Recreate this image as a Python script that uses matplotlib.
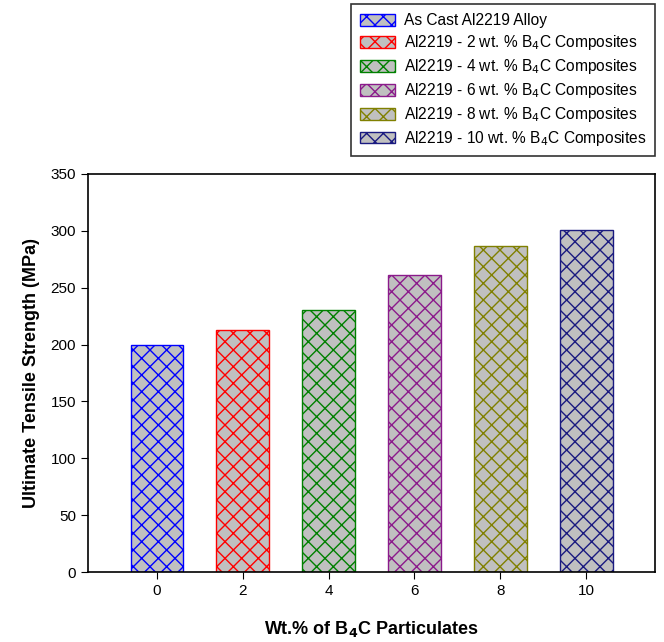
import matplotlib.pyplot as plt
from matplotlib.patches import Patch

plt.rcParams['font.family'] = ['Liberation Sans', 'DejaVu Sans']
plt.rcParams['hatch.linewidth'] = 1.0

wt_pct = [0, 2, 4, 6, 8, 10]
uts = [200, 213, 230, 261, 287, 301]
labels = ['As Cast Al2219 Alloy',
          'Al2219 - 2 wt. % B$_4$C Composites',
          'Al2219 - 4 wt. % B$_4$C Composites',
          'Al2219 - 6 wt. % B$_4$C Composites',
          'Al2219 - 8 wt. % B$_4$C Composites',
          'Al2219 - 10 wt. % B$_4$C Composites']
edge_colors = ['#0000ff', '#ff0000', '#008000', '#8b1a8b', '#808000', '#1a1a80']
fill = '#c0c0c0'

fig = plt.figure(figsize=(6.64, 6.42), dpi=100)
ax = fig.add_axes([0.1325, 0.109, 0.854, 0.62])

for x, y, c in zip(wt_pct, uts, edge_colors):
    ax.bar(x, y, width=1.22, color=fill, edgecolor=c, hatch='xx', linewidth=1)

ax.set_xlim(-1.6, 11.6)
ax.set_ylim(0, 350)
ax.set_xticks(wt_pct)
ax.set_yticks(range(0, 351, 50))
ax.tick_params(direction='out', length=5, labelsize=11, top=False, right=False)
for s in ax.spines.values():
    s.set_linewidth(1.2)

ax.set_ylabel('Ultimate Tensile Strength (MPa)', fontsize=13, fontweight='bold', labelpad=8)
ax.set_xlabel(r'Wt.% of B$_\mathbf{4}$C Particulates', fontsize=13, fontweight='bold', labelpad=15)

handles = [Patch(facecolor=fill, edgecolor=c, hatch='xx', linewidth=1) for c in edge_colors]
leg = fig.legend(handles, labels, loc='upper right', bbox_to_anchor=(0.987, 0.993),
                 fontsize=11.2, frameon=True, fancybox=False, edgecolor='black',
                 handlelength=2.25, handleheight=0.8, labelspacing=0.32,
                 borderpad=0.55, borderaxespad=0, handletextpad=0.6)
leg.get_frame().set_linewidth(1.2)

fig.savefig('out.png', dpi=100)
